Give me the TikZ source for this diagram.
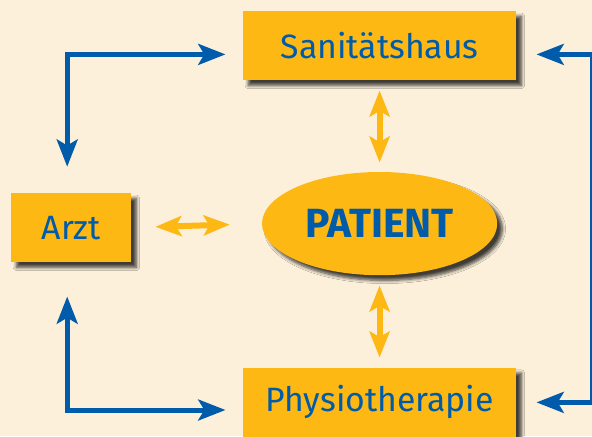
\documentclass[tikz,border=0pt]{standalone}
\usepackage{fontspec}
\setmainfont{Fira Sans}
\usetikzlibrary{shapes.geometric,shadows.blur,arrows.meta}
\definecolor{paper}{HTML}{FCF0DB}
\definecolor{gold}{HTML}{FDB813}
\definecolor{navy}{HTML}{005BAA}
\tikzset{partner/.style={
		rectangle,
		fill=gold,
		text=navy,
		minimum height=1.73cm,
		font=\fontsize{24}{28}\selectfont,
		blur shadow={shadow xshift=0.13cm, shadow yshift=-0.13cm, shadow blur steps=6, shadow blur radius=0.08cm, shadow opacity=75}},
	center/.style={
		ellipse,
		fill=gold,
		text=navy,
		minimum width=5.88cm,
		minimum height=2.58cm,
		font=\fontsize{29}{32}\selectfont\bfseries,
		blur shadow={shadow xshift=0.13cm, shadow yshift=-0.13cm, shadow blur steps=6, shadow blur radius=0.08cm, shadow opacity=75}},
	swap/.style={
		gold,
		line width=0.15cm,
		{Stealth[length=0.65cm,width=0.5cm,inset=0.14cm]}-{Stealth[length=0.65cm,width=0.5cm,inset=0.14cm]}},
	link/.style={
		navy,
		line width=0.125cm,
		miter limit=4,
		{Stealth[length=0.68cm,width=0.52cm,inset=0.15cm]}-{Stealth[length=0.68cm,width=0.52cm,inset=0.15cm]}}}

\begin{document}
\begin{tikzpicture}
				\fill[paper] (0,0) rectangle (14.8,-10.9);
				\useasboundingbox (0,0) rectangle (14.8,-10.9);
				\node[partner, minimum width=6.83cm] (San) at (9.49,-1.14) {Sanitätshaus};
				\node[partner, minimum width=3cm] (Arzt) at (1.78,-5.69) {Arzt};
				\node[partner, minimum width=6.83cm] (Phys) at (9.49,-10.06) {Physiotherapie};
				\node[center] (Pat) at (9.49,-5.59) {PATIENT};
				
				\draw[swap, shorten <=0.25cm, shorten >=0.23cm] (San.south) -- (Pat.north);
				\draw[swap, shorten <=0.25cm, shorten >=0.25cm] (Pat.south) -- (Phys.north);
				\draw[swap, shorten <=0.6cm, shorten >=0.8cm] (Arzt.east) -- (Pat.west);
				
				\draw[link] ([xshift=-0.1cm, yshift=0.65cm]Arzt.north) |- ([xshift=-0.43cm, yshift=-0.22cm]San.west);
				\draw[link] ([xshift=-0.1cm, yshift=-0.85cm]Arzt.south) |- ([xshift=-0.43cm, yshift=-0.19cm]Phys.west);
				\draw[link] ([xshift=0.5cm, yshift=-0.22cm]San.east) -- ++(1.4cm,0) |- ([xshift=0.5cm]Phys.east);
			\end{tikzpicture}
\end{document}
